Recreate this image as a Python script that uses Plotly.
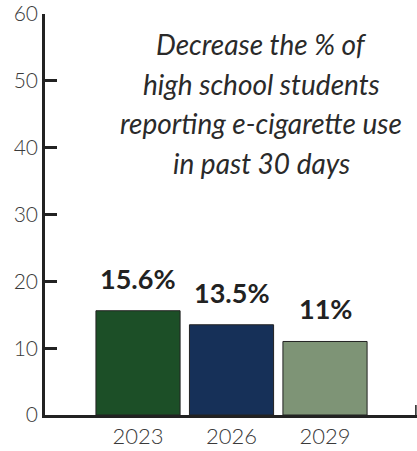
import plotly.graph_objects as go

# Target years and the % of high school students using e-cigarettes
years = ["2023", "2026", "2029"]
values = [15.6, 13.5, 11.0]
value_labels = ["15.6%", "13.5%", "11%"]
bar_colors = ["#1c4f27", "#163058", "#7e9476"]

y_ticks = [0, 10, 20, 30, 40, 50, 60]

title_lines = [
    "Decrease the % of",
    "high school students",
    "reporting e-cigarette use",
    "in past 30 days",
]

FONT = "Lato"
INK = "#222222"
TICK_GREY = "#3a3a3a"

plot_left, plot_width = 45, 372
plot_top, plot_height = 14, 401

fig = go.Figure()
fig.add_trace(go.Bar(
    x=years,
    y=values,
    width=0.9,
    marker=dict(color=bar_colors, line=dict(color=INK, width=1)),
    hoverinfo="skip",
))

annotations = []

# Value labels above the bars (category index positions)
for idx, (v, lab) in enumerate(zip(values, value_labels)):
    annotations.append(dict(
        x=idx, y=v, xref="x", yref="y",
        text=f"<b>{lab}</b>", showarrow=False,
        xanchor="center", yanchor="bottom", yshift=14,
        font=dict(family=FONT, size=27, color=INK),
    ))

# Italic headline, one annotation per line for wide line spacing
for i, line in enumerate(title_lines):
    center_px = 44 + 39.5 * i
    annotations.append(dict(
        x=(261 - plot_left) / plot_width, xref="paper",
        y=1 - (center_px - plot_top) / plot_height, yref="paper",
        xanchor="center", yanchor="middle",
        text=f"<i>{line}</i>", showarrow=False,
        font=dict(family=FONT, size=28, color="#2a2a2a", weight=400),
    ))

fig.update_layout(
    width=417, height=451,
    margin=dict(l=45, r=0, t=14, b=36),
    paper_bgcolor="white", plot_bgcolor="white",
    showlegend=False,
    font=dict(family=FONT, color=TICK_GREY),
    annotations=annotations,
    xaxis=dict(
        type="category", range=[-0.995, 2.984],
        showline=True, linecolor=INK, linewidth=2.5,
        ticks="", showgrid=False, zeroline=False,
        tickfont=dict(family=FONT, size=22, color=TICK_GREY, weight=300),
    ),
    yaxis=dict(
        range=[0, 60], tickvals=y_ticks,
        showline=True, linecolor=INK, linewidth=2.5,
        ticks="inside", ticklen=12, tickwidth=2.5, tickcolor=INK,
        showgrid=False, zeroline=False,
        tickfont=dict(family=FONT, size=21, color=TICK_GREY, weight=300),
    ),
)

# Short upright stroke at the right end of the baseline
fig.add_shape(type="line", xref="paper", yref="paper",
              x0=0.997, x1=0.997, y0=0, y1=10 / plot_height,
              line=dict(color=INK, width=1.5))

fig.write_html("out.html")
